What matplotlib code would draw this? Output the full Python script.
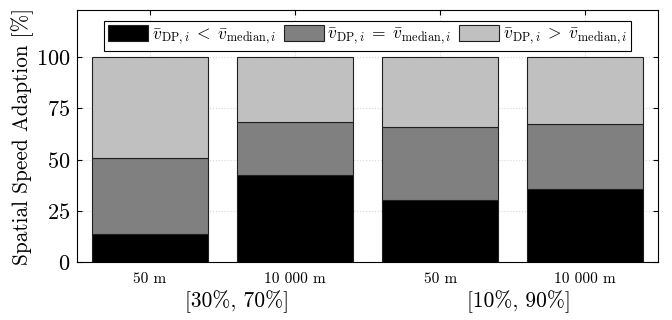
import matplotlib.pyplot as plt
import numpy as np

# share of segments per setting [%]
settings = ['50 m', '10 000 m', '50 m', '10 000 m']
slower = [13.7, 42.4, 30.1, 35.5]
equal = [36.9, 25.7, 35.6, 31.7]
faster = [49.4, 31.9, 34.3, 32.8]
groups = ['[30%, 70%]', '[10%, 90%]']
group_pos = [1.6, 3.54]

labels = [r'$\bar{v}_{\mathrm{DP},i}\;<\;\bar{v}_{\mathrm{median},i}$',
          r'$\bar{v}_{\mathrm{DP},i}\;=\;\bar{v}_{\mathrm{median},i}$',
          r'$\bar{v}_{\mathrm{DP},i}\;>\;\bar{v}_{\mathrm{median},i}$']

plt.rcParams['font.family'] = 'serif'
plt.rcParams['font.serif'] = ['cmr10']
plt.rcParams['mathtext.fontset'] = 'cm'
plt.rcParams['axes.formatter.use_mathtext'] = True

fig, ax = plt.subplots(figsize=(6.72, 3.2), dpi=100)
fig.subplots_adjust(left=0.115, right=0.979, top=0.969, bottom=0.181)

x = np.arange(1, len(settings) + 1)
b1 = np.array(slower)
b2 = b1 + np.array(equal)
ax.bar(x, slower, 0.8, color='black', edgecolor='#202020', linewidth=0.8,
       label=labels[0], zorder=3)
ax.bar(x, equal, 0.8, bottom=b1, color='#808080', edgecolor='#202020',
       linewidth=0.8, label=labels[1], zorder=3)
ax.bar(x, faster, 0.8, bottom=b2, color='#c0c0c0', edgecolor='#202020',
       linewidth=0.8, label=labels[2], zorder=3)

ax.set_xlim(0.5, 4.5)
ax.set_ylim(0, 123)
ax.set_yticks([0, 25, 50, 75, 100])
ax.set_xticks(x)
ax.set_xticklabels(settings, fontsize=11)
ax.tick_params(axis='y', labelsize=16, direction='in', right=True, pad=5)
ax.tick_params(axis='x', direction='in', top=True, pad=7)
ax.grid(True, linestyle=':', color='#d8d8d8', linewidth=0.8, zorder=0)
ax.set_ylabel('Spatial Speed Adaption [%]', fontsize=15.3, labelpad=1)
for sp in ax.spines.values():
    sp.set_linewidth(0.8)

for g, gx in zip(groups, group_pos):
    ax.text(gx, -0.157, g, transform=ax.get_xaxis_transform(),
            ha='center', va='center', fontsize=15.5)

leg = ax.legend(loc='upper center', ncol=3, fontsize=12.5, frameon=True,
                fancybox=False, edgecolor='black', framealpha=1,
                handlelength=2.3, handleheight=1.0, columnspacing=0.45,
                handletextpad=0.2, borderpad=0.25, borderaxespad=0.5,
                bbox_to_anchor=(0.5, 0.99))
leg.get_frame().set_linewidth(0.8)

plt.savefig('out.png', dpi=100)
